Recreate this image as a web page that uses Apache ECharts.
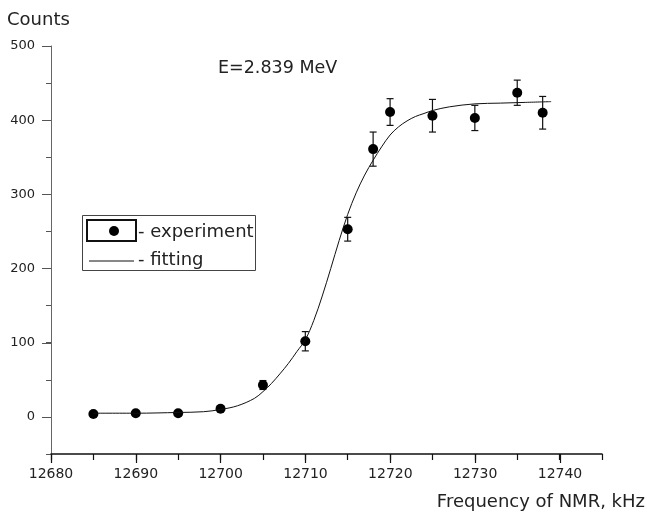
<!DOCTYPE html>
<html>
<head>
<meta charset="utf-8">
<script src="https://cdn.jsdelivr.net/npm/echarts@6/dist/echarts.min.js"></script>
<style>
  html, body { margin: 0; padding: 0; background: #fff; }
  #chart { width: 647px; height: 513px; }
</style>
</head>
<body>
<div id="chart"></div>
<script>
// measured points
const freq = [12685, 12690, 12695, 12700, 12705, 12710, 12715, 12718, 12720, 12725, 12730, 12735, 12738]
const counts = [4, 5, 5, 11, 43, 102, 253, 361, 411, 406, 403, 437, 410]
const errors = [3, 3, 3, 4, 6, 13, 16, 23, 18, 22, 17, 17, 22]

// fitted curve
const fitFreq = [12685, 12690, 12695, 12698, 12700, 12702, 12704, 12705, 12706, 12707, 12708, 12709, 12710, 12711, 12712, 12713, 12714, 12715, 12716, 12717, 12718, 12719, 12720, 12721, 12722, 12723, 12724, 12725, 12727, 12730, 12733, 12736, 12739]
const fitCounts = [5, 5, 6, 7, 10, 15, 25, 34, 45, 58, 72, 88, 104, 130, 163, 200, 238, 273, 302, 326, 346, 364, 380, 391, 399, 405, 409, 413, 418, 422, 423, 424, 425]

const xTicks = [12680, 12690, 12700, 12710, 12720, 12730, 12740]
const yTicks = [0, 100, 200, 300, 400, 500]

const font = 'DejaVu Sans'
const ink = '#222'

const chart = echarts.init(document.getElementById('chart'))

const points = freq.map((f, i) => [f, counts[i]])
const bars = freq.map((f, i) => [f, counts[i] - errors[i], counts[i] + errors[i]])
const fit = fitFreq.map((f, i) => [f, fitCounts[i]])

const renderErrorBar = (params, api) => {
  const x = api.value(0)
  const top = api.coord([x, api.value(2)])
  const bot = api.coord([x, api.value(1)])
  const w = 3.5
  const style = { stroke: '#111', lineWidth: 1.2 }
  return {
    type: 'group',
    children: [
      { type: 'line', shape: { x1: top[0], y1: top[1], x2: bot[0], y2: bot[1] }, style },
      { type: 'line', shape: { x1: top[0] - w, y1: top[1], x2: top[0] + w, y2: top[1] }, style },
      { type: 'line', shape: { x1: bot[0] - w, y1: bot[1], x2: bot[0] + w, y2: bot[1] }, style }
    ]
  }
}

const option = {
  animation: false,
  backgroundColor: '#fff',
  textStyle: { fontFamily: font },
  grid: [
    { left: 51, right: 45, top: 46, bottom: 59 },
    { left: 51, width: 509, top: 46, bottom: 59 },
    { left: 51, width: 100, top: 46, height: 371 }
  ],
  xAxis: [
    {
      gridIndex: 0, type: 'value', min: 12680, max: 12745, interval: 5,
      axisLine: { show: true, onZero: false, lineStyle: { color: '#111', width: 1.5 } },
      axisTick: { show: true, length: 6, lineStyle: { color: '#111', width: 1.2 } },
      axisLabel: { show: false },
      splitLine: { show: false }
    },
    {
      gridIndex: 1, type: 'value', min: xTicks[0], max: xTicks[xTicks.length - 1], interval: 10,
      axisLine: { show: false, onZero: false },
      axisTick: { show: true, length: 9, lineStyle: { color: '#111', width: 1.2 } },
      axisLabel: { show: true, margin: 13, color: ink, fontSize: 14, fontFamily: font, formatter: v => String(v) },
      splitLine: { show: false }
    },
    { gridIndex: 2, type: 'value', show: false, min: 0, max: 1, axisLine: { onZero: false } }
  ],
  yAxis: [
    {
      gridIndex: 0, type: 'value', min: -50, max: 500, interval: 50,
      axisLine: { show: true, onZero: false, lineStyle: { color: '#666', width: 1 } },
      axisTick: { show: true, length: 5, lineStyle: { color: '#555', width: 1 } },
      axisLabel: { show: false },
      splitLine: { show: false }
    },
    { gridIndex: 1, type: 'value', show: false, min: -50, max: 500, axisLine: { onZero: false } },
    {
      gridIndex: 2, type: 'value', min: yTicks[0], max: yTicks[yTicks.length - 1], interval: 100,
      axisLine: { show: false, onZero: false },
      axisTick: { show: true, length: 9, lineStyle: { color: '#555', width: 1 } },
      axisLabel: { show: true, margin: 16, color: ink, fontSize: 13, fontFamily: font },
      splitLine: { show: false }
    }
  ],
  series: [
    {
      name: 'fitting', type: 'line', data: fit,
      xAxisIndex: 0, yAxisIndex: 0,
      smooth: 0.35, showSymbol: false,
      lineStyle: { color: '#111', width: 1 }
    },
    {
      name: 'errors', type: 'custom', data: bars,
      xAxisIndex: 0, yAxisIndex: 0,
      encode: { x: 0, y: [1, 2] },
      renderItem: renderErrorBar
    },
    {
      name: 'experiment', type: 'scatter', data: points,
      xAxisIndex: 0, yAxisIndex: 0,
      symbol: 'circle', symbolSize: 10,
      itemStyle: { color: '#000', opacity: 1 }
    }
  ],
  graphic: [
    { type: 'text', style: { x: 7, y: 20, text: 'Counts', font: '18px "DejaVu Sans"', fill: ink, verticalAlign: 'middle' } },
    { type: 'text', style: { x: 218, y: 68, text: 'E=2.839 MeV', font: '17.5px "DejaVu Sans"', fill: ink, verticalAlign: 'middle' } },
    { type: 'text', style: { x: 645, y: 502, text: 'Frequency of NMR, kHz', font: '18px "DejaVu Sans"', fill: ink, align: 'right', verticalAlign: 'middle' } },
    // legend
    { type: 'rect', shape: { x: 82.5, y: 215.5, width: 173, height: 55 }, style: { fill: '#fff', stroke: '#444', lineWidth: 1 }, z: 10 },
    { type: 'rect', shape: { x: 87, y: 220, width: 49, height: 21 }, style: { fill: 'none', stroke: '#111', lineWidth: 2 }, z: 11 },
    { type: 'circle', shape: { cx: 114, cy: 231, r: 5 }, style: { fill: '#000' }, z: 11 },
    { type: 'line', shape: { x1: 89, y1: 261, x2: 134, y2: 261 }, style: { stroke: '#111', lineWidth: 1 }, z: 11 },
    { type: 'text', style: { x: 138, y: 232, text: '- experiment', font: '18px "DejaVu Sans"', fill: ink, verticalAlign: 'middle' }, z: 11 },
    { type: 'text', style: { x: 138, y: 260, text: '- fitting', font: '18px "DejaVu Sans"', fill: ink, verticalAlign: 'middle' }, z: 11 }
  ]
}

chart.setOption(option)
</script>
</body>
</html>
